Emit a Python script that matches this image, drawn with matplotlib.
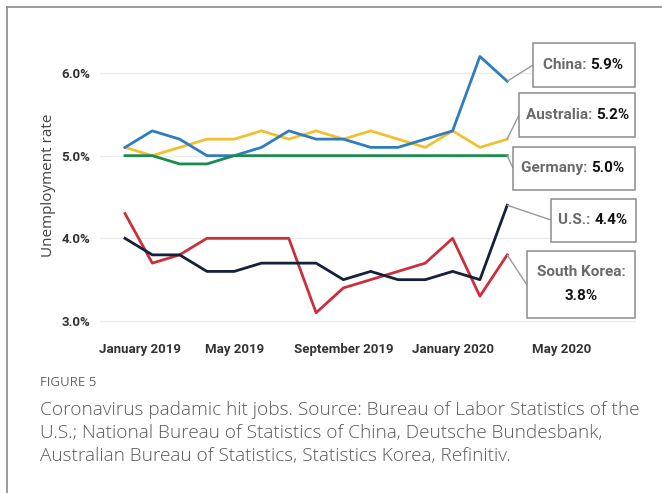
import matplotlib
matplotlib.use('Agg')
import matplotlib.pyplot as plt
import matplotlib.transforms as mtransforms
from matplotlib.patches import Rectangle
from matplotlib.lines import Line2D
from matplotlib.text import Annotation

# data: monthly unemployment rate (%), January 2019 .. March 2020
months = list(range(15))
china = [5.1, 5.3, 5.2, 5.0, 5.0, 5.1, 5.3, 5.2, 5.2, 5.1, 5.1, 5.2, 5.3, 6.2, 5.9]
australia = [5.1, 5.0, 5.1, 5.2, 5.2, 5.3, 5.2, 5.3, 5.2, 5.3, 5.2, 5.1, 5.3, 5.1, 5.2]
germany = [5.0, 5.0, 4.9, 4.9, 5.0, 5.0, 5.0, 5.0, 5.0, 5.0, 5.0, 5.0, 5.0, 5.0, 5.0]
us = [4.0, 3.8, 3.8, 3.6, 3.6, 3.7, 3.7, 3.7, 3.5, 3.6, 3.5, 3.5, 3.6, 3.5, 4.4]
south_korea = [4.3, 3.7, 3.8, 4.0, 4.0, 4.0, 4.0, 3.1, 3.4, 3.5, 3.6, 3.7, 4.0, 3.3, 3.8]

xtick_pos = [0, 4, 8, 12, 16]
xtick_labels = ['January 2019', 'May 2019', 'September 2019', 'January 2020', 'May 2020']
ytick_pos = [3.0, 4.0, 5.0, 6.0]
ytick_labels = ['3.0%', '4.0%', '5.0%', '6.0%']

W, H = 662, 493
fig = plt.figure(figsize=(W / 100, H / 100), dpi=100)
fig.patch.set_facecolor('white')

cond = ['Liberation Sans Narrow', 'Roboto', 'DejaVu Sans']
capfont = ['Open Sans', 'DejaVu Sans']

# outer frame lines (left and top)
fig.add_artist(Line2D([6.5 / W, 6.5 / W], [0, 1 - 6.5 / H], transform=fig.transFigure,
                      color='#8a8a8a', lw=1.2))
fig.add_artist(Line2D([6.5 / W, 1], [1 - 6.5 / H, 1 - 6.5 / H], transform=fig.transFigure,
                      color='#8a8a8a', lw=1.2))

# axes placed in pixels: x 100..636, y 40..330 (image coords)
ax = fig.add_axes([100 / W, (H - 330) / H, 536 / W, 290 / H])
ax.set_xlim(-25 / 27.3, 511 / 27.3)
ax.set_ylim(3.0 - 9 / 82.7, 6.0 + 33 / 82.7)
for s in ax.spines.values():
    s.set_visible(False)
ax.set_yticks(ytick_pos)
ax.set_yticklabels(ytick_labels, fontfamily=cond, fontsize=9.5, fontweight='bold', color='#333333')
ax.set_xticks(xtick_pos)
ax.set_xticklabels(xtick_labels, fontfamily=cond, fontsize=9.5, fontweight='bold', color='#333333')
ax.tick_params(axis='both', length=0)
ax.tick_params(axis='y', pad=7)
ax.tick_params(axis='x', pad=9)
ax.grid(axis='y', color='#ececec', lw=1)
ax.set_axisbelow(True)

# first x label sits a bit to the right in the original
lab0 = ax.get_xticklabels()[0]
lab0.set_transform(lab0.get_transform() + mtransforms.ScaledTranslation(15 / 100, 0, fig.dpi_scale_trans))

ax.set_ylabel('Unemployment rate', fontfamily=capfont, fontsize=11, color='#444444', labelpad=4)

lw = 2.0
ax.plot(months, south_korea, color='#cc2f3c', lw=lw, clip_on=False)
ax.plot(months, us, color='#14213a', lw=lw, clip_on=False)
ax.plot(months, australia, color='#f0c030', lw=lw, clip_on=False)
ax.plot(months, china, color='#2f7dbe', lw=lw, clip_on=False)
ax.plot(months, germany, color='#1d8a4e', lw=lw, clip_on=False)

# callout boxes: (label, series, box x0, x1, y0, y1 in image px, anchor y, text pad)
callouts = [
    ('China: ', china, 533, 635, 43, 87, 65, 10),
    ('Australia: ', australia, 519, 635, 93, 137, 115, 7),
    ('Germany: ', germany, 513, 635, 147, 190, 168, 8),
    ('U.S.: ', us, 551, 636, 199, 242, 220, 7),
]

def fig_px(x, y):
    return (x, H - y)

for label, series, x0, x1, y0, y1, ya, pad in callouts:
    fig.add_artist(Rectangle(fig_px(x0, y1), x1 - x0, y1 - y0, transform=None,
                             facecolor='white', edgecolor='#8c8c8c', lw=1.1))
    ax.annotate('', xy=(months[-1], series[-1]), xycoords='data',
                xytext=fig_px(x0, ya), textcoords='figure pixels',
                arrowprops=dict(arrowstyle='-', color='#9a9a9a', lw=1, shrinkA=0, shrinkB=0))
    t = fig.text((x0 + pad) / W, 1 - (y0 + y1) / 2 / H, label, fontfamily=cond, fontsize=11,
                 fontweight='bold', color='#6a6a6a', ha='left', va='center')
    v = Annotation('%.1f%%' % series[-1], xy=(1, 0.5), xycoords=t, ha='left', va='center',
                   fontfamily=cond, fontsize=11, fontweight='bold', color='#111111')
    v.set_zorder(5)
    fig.add_artist(v)

# South Korea box (two lines)
x0, x1, y0, y1 = 527, 635, 251, 318
fig.add_artist(Rectangle(fig_px(x0, y1), x1 - x0, y1 - y0, transform=None,
                         facecolor='white', edgecolor='#8c8c8c', lw=1.1))
ax.annotate('', xy=(months[-1], south_korea[-1]), xycoords='data',
            xytext=fig_px(x0, 285), textcoords='figure pixels',
            arrowprops=dict(arrowstyle='-', color='#9a9a9a', lw=1, shrinkA=0, shrinkB=0))
fig.text((x0 + x1) / 2 / W, 1 - 272 / H, 'South Korea:', fontfamily=cond, fontsize=11,
         fontweight='bold', color='#6a6a6a', ha='center', va='center')
fig.text((x0 + x1) / 2 / W, 1 - 296 / H, '%.1f%%' % south_korea[-1], fontfamily=cond, fontsize=11,
         fontweight='bold', color='#111111', ha='center', va='center')

# caption
fig.text(40 / W, 1 - 383 / H, 'FIGURE 5', fontfamily=capfont, fontsize=9.5, color='#666666',
         ha='left', va='center')
caption = ['Coronavirus padamic hit jobs. Source: Bureau of Labor Statistics of the',
           'U.S.; National Bureau of Statistics of China, Deutsche Bundesbank,',
           'Australian Bureau of Statistics, Statistics Korea, Refinitiv.']
for k, line in enumerate(caption):
    fig.text(40 / W, 1 - (410 + 23 * k) / H, line, fontfamily=capfont, fontsize=13.7,
             fontweight='light', color='#5a5a5a', ha='left', va='center')

fig.savefig('out.png', dpi=100, facecolor='white')
